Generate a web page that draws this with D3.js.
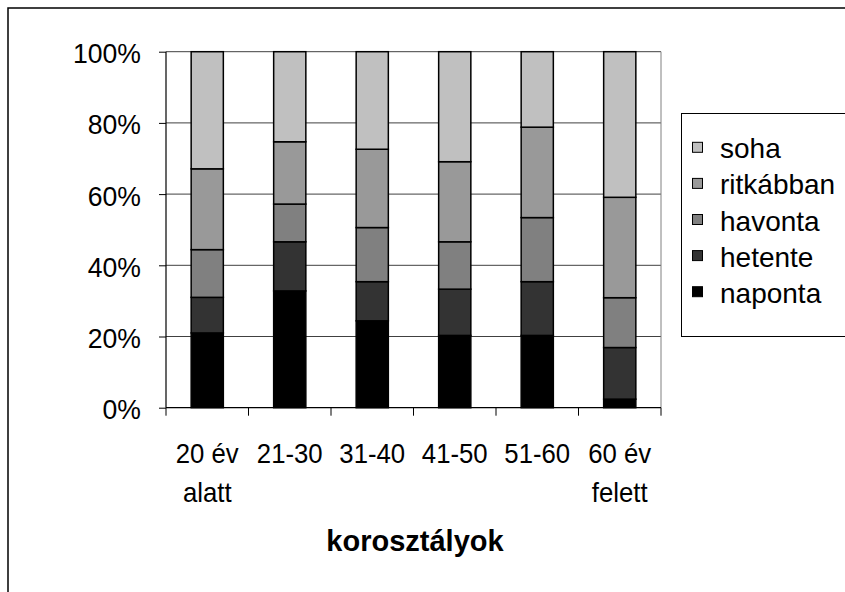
<!DOCTYPE html>
<html><head><meta charset="utf-8">
<script src="https://cdn.jsdelivr.net/npm/d3@7"></script>
<style>body{margin:0;background:#fff}svg{display:block}text{font-family:"Liberation Sans",Arial,sans-serif;fill:#000}</style>
</head><body><svg id="c" width="845" height="592"></svg>
<script>
const categories = [["20 év","alatt"],["21-30"],["31-40"],["41-50"],["51-60"],["60 év","felett"]];
const seriesNames = ["naponta","hetente","havonta","ritkábban","soha"];
const naponta   = [21.0, 32.8, 24.4, 20.3, 20.3, 2.4];
const hetente   = [10.0, 13.8, 11.0, 13.0, 15.1, 14.5];
const havonta   = [13.4, 10.6, 15.2, 13.3, 18.0, 14.0];
const ritkabban = [22.7, 17.5, 22.0, 22.5, 25.4, 28.2];
const soha      = [32.9, 25.3, 27.4, 30.9, 21.2, 40.9];
const colors = ["#000000","#333333","#808080","#999999","#C0C0C0"];
const yTicks = [0,20,40,60,80,100];
const axisTitle = "korosztályok";

const svg = d3.select("#c");
const X0=166, X1=661, Y0=51.7, Y1=407.7;
const FS = 28;

svg.append("rect").attr("x",8).attr("y",8).attr("width",900).attr("height",700)
  .attr("fill","none").attr("stroke","#000").attr("stroke-width",1.5);

const keys = categories.map(c=>c.join(" "));
const x = d3.scaleBand().domain(keys).range([X0,X1]).paddingInner(0.61).paddingOuter(0.305);
const xb = d3.scaleBand().domain(keys).range([X0,X1]);
const y = d3.scaleLinear().domain([0,100]).range([Y1,Y0]);

// gridlines
svg.append("g").selectAll("line").data(yTicks.filter(t=>t>0)).join("line")
  .attr("x1",X0).attr("x2",X1).attr("y1",d=>y(d)).attr("y2",d=>y(d))
  .attr("stroke","#404040").attr("stroke-width",1);
svg.append("line").attr("x1",X1).attr("x2",X1).attr("y1",Y0).attr("y2",Y1).attr("stroke","#808080").attr("stroke-width",1);

// stacked data
const table = keys.map((k,i)=>({key:k, naponta:naponta[i], hetente:hetente[i], havonta:havonta[i], "ritkábban":ritkabban[i], soha:soha[i]}));
const stack = d3.stack().keys(seriesNames)(table);
svg.append("g").selectAll("g").data(stack).join("g")
  .attr("fill",(d,i)=>colors[i])
  .selectAll("rect").data(d=>d).join("rect")
  .attr("x",d=>x(d.data.key)).attr("width",x.bandwidth())
  .attr("y",d=>y(d[1])).attr("height",d=>y(d[0])-y(d[1]))
  .attr("stroke","#000").attr("stroke-width",1.5);

// y axis
const ya = svg.append("g").attr("transform",`translate(${X0},0)`)
  .call(d3.axisLeft(y).tickValues(yTicks).tickSize(7).tickFormat(d=>d+"%"));
ya.select(".domain").attr("stroke","#000").attr("stroke-width",1.2).attr("d",`M0,${Y0}V${Y1}`);
ya.selectAll(".tick line").attr("stroke","#000");
ya.selectAll(".tick text").remove();
ya.selectAll(".tick").append("text")
  .attr("transform",`translate(-25,11) scale(0.95,1)`).attr("text-anchor","end")
  .style("font-size",FS+"px").text(d=>d+"%");

// x axis
const xa = svg.append("g").attr("transform",`translate(0,${Y1})`)
  .call(d3.axisBottom(xb).tickSize(0).tickFormat(""));
xa.select(".domain").attr("stroke","#000").attr("stroke-width",1.2).attr("d",`M${X0},0H${X1}`);
xa.selectAll(".tick").remove();
const bounds = d3.range(keys.length+1).map(i=>X0+i*xb.step());
xa.selectAll("line.tk").data(bounds).join("line").attr("class","tk")
  .attr("x1",d=>d).attr("x2",d=>d).attr("y1",0).attr("y2",8).attr("stroke","#000").attr("stroke-width",1);

const lab = svg.append("g");
categories.forEach((c,i)=>{
  c.forEach((t,j)=>{
    lab.append("text").attr("transform",`translate(${xb(keys[i])+xb.bandwidth()/2},${463+j*39}) scale(0.92,1)`)
      .attr("text-anchor","middle").style("font-size",FS+"px").text(t);
  });
});
svg.append("text").attr("transform",`translate(415,551)`).attr("text-anchor","middle")
  .style("font-size","29px").style("font-weight","bold").text(axisTitle);

// legend
const lg = svg.append("g");
lg.append("rect").attr("x",681.5).attr("y",113.5).attr("width",200).attr("height",223)
  .attr("fill","#fff").attr("stroke","#000").attr("stroke-width",1);
const legOrder = seriesNames.slice().reverse();
legOrder.forEach((n,i)=>{
  const by = 158.3 + i*36.1;
  lg.append("rect").attr("x",692.5).attr("y",by-16).attr("width",10).attr("height",10)
    .attr("fill",colors[seriesNames.indexOf(n)]).attr("stroke","#000").attr("stroke-width",1);
  lg.append("text").attr("transform",`translate(720,${by})`)
    .style("font-size",FS+"px").text(n);
});
</script></body></html>
